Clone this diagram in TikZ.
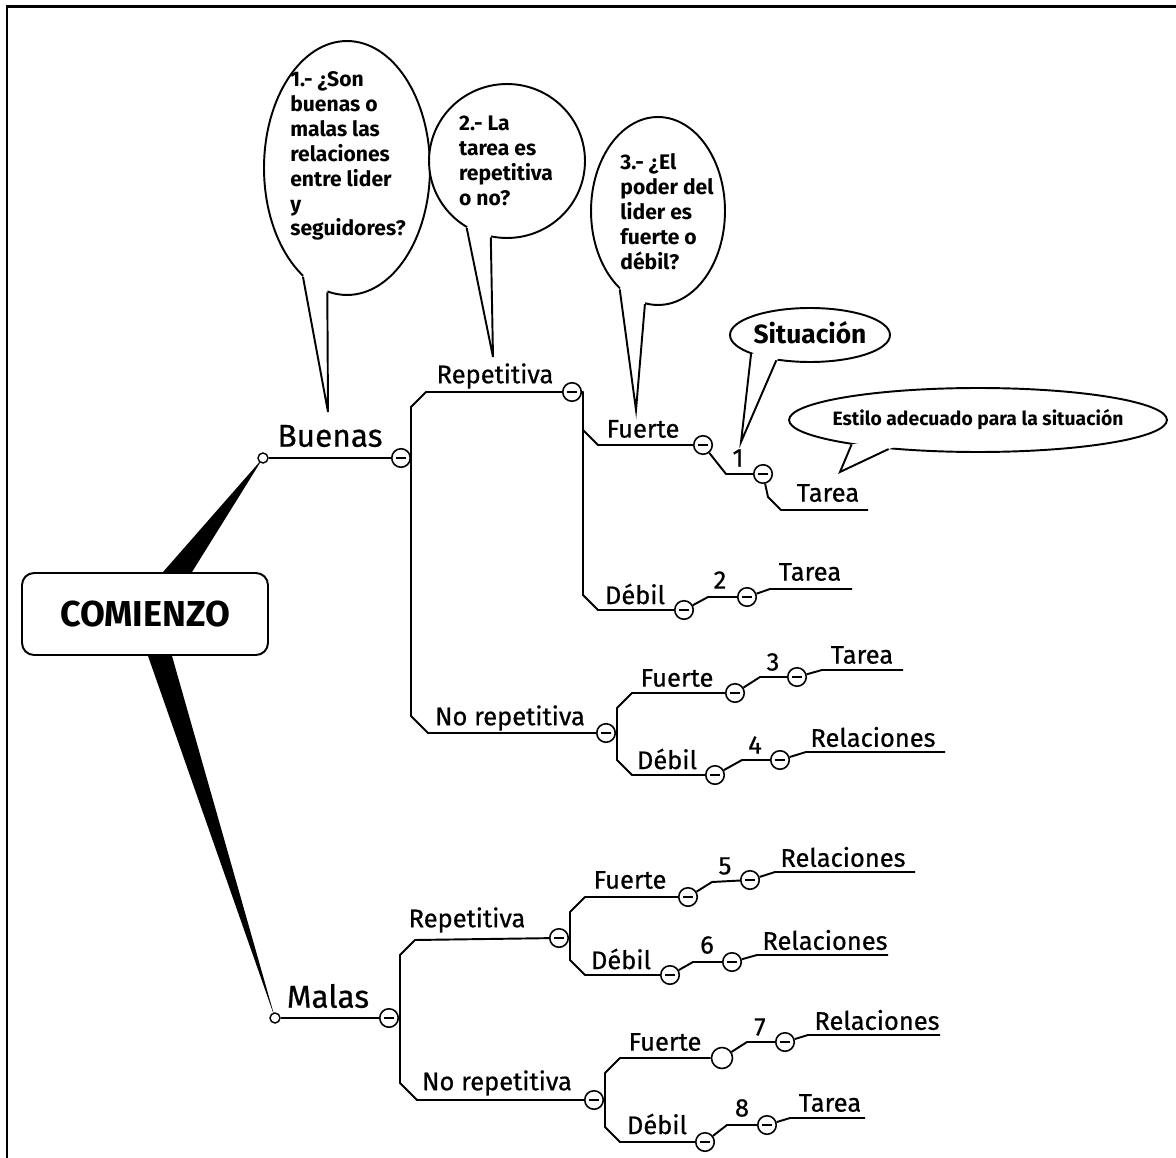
\documentclass[tikz,border=0pt]{standalone}
\usepackage{fontspec}
\setmainfont{Fira Sans}
\newfontfamily\branchfont{Fira Sans}[FakeBold=0.6]
\usetikzlibrary{shapes.geometric,positioning,backgrounds,calc}
\tikzset{
    rootbox/.style={
        draw,
        fill=white,
        rectangle,
        rounded corners=0.24cm,
        minimum width=4.92cm,
        minimum height=1.64cm,
        line width=1.1pt,
        font=\fontsize{20.5}{24}\selectfont\bfseries
    },
    branch/.style={
        line width=1.1pt,
        line join=round
    },
    toggle/.style={
        circle,
        draw,
        fill=white,
        line width=0.9pt,
        minimum size=0.37cm,
        inner sep=0pt,
        path picture={\draw[line width=0.9pt]
            ([xshift=-0.1cm]path picture bounding box.center) --
            ([xshift=0.1cm]path picture bounding box.center);}
    },
    toggleopen/.style={
        circle,
        draw,
        fill=white,
        line width=0.9pt,
        minimum size=0.42cm,
        inner sep=0pt
    },
    knob/.style={
        circle,
        draw,
        fill=white,
        line width=0.8pt,
        minimum size=0.2cm,
        inner sep=0pt
    },
    topic/.style={
        font=\branchfont\fontsize{18}{20}\selectfont,
        inner sep=1pt
    },
    sub/.style={
        font=\branchfont\fontsize{14.5}{17}\selectfont,
        inner sep=1pt
    },
    bubble/.style={
        ellipse,
        draw,
        fill=white,
        line width=1.1pt,
        inner sep=0pt
    },
    qtext/.style={
        align=left,
        inner sep=0pt,
        font=\fontsize{12}{14.2}\selectfont\bfseries
    },
    tail/.style={
        line width=1.1pt,
        line join=miter
    }
}

\begin{document}
\begin{tikzpicture}[x=0.02cm, y=-0.02cm]
    \useasboundingbox (0,0) rectangle (1176,1158);
    % frame
    \draw[line width=1.7pt] (7,1158) -- (7,7) -- (1176,7);

    % Root
    \node[rootbox] (root) at (145,614) {COMIENZO};
    \node[knob] (pBue) at (263,458) {};
    \node[knob] (pMal) at (275,1018) {};
    \begin{scope}[on background layer]
        \fill ($(root.north)+(18,0)$) -- (pBue.center) -- ($(root.north)+(47,0)$) -- cycle;
        \fill ($(root.south)+(3,0)$) -- (pMal.center) -- ($(root.south)+(27,0)$) -- cycle;
    \end{scope}

    % First level
    \node[topic] (lBue) at (330,436) {Buenas};
    \node[toggle] (cBue) at (401,458) {};
    \node[topic] (lMal) at (328,996) {Malas};
    \node[toggle] (cMal) at (389,1018) {};
    \draw[branch] (pBue) -- (cBue);
    \draw[branch] (pMal) -- (cMal);

    % Buenas
    \node[sub] (lBR) at (495,376) {Repetitiva};
    \node[toggle] (cBR) at (572,392) {};
    \node[sub] (lBN) at (510,718) {No repetitiva};
    \node[toggle] (cBN) at (606,733) {};
    \draw[branch] (cBR) -- (426,392) -- (411,407) |- (cBue);
    \draw[branch] (cBN) -- (428,733) -- (411,716) |- (cBue);

    \node[sub] (lBRF) at (643,429) {Fuerte};
    \node[toggle] (cBRF) at (703,445) {};
    \node[sub] (lBRD) at (635,594) {Débil};
    \node[toggle] (cBRD) at (684,610) {};
    \draw[branch] (cBRF) -- (598,445) -- (583,430) |- (cBR);
    \draw[branch] (cBRD) -- (598,610) -- (583,595) |- (cBR);

    \node[sub] (lBNF) at (677,678) {Fuerte};
    \node[toggle] (cBNF) at (735,693) {};
    \node[sub] (lBND) at (667,759) {Débil};
    \node[toggle] (cBND) at (715,775) {};
    \draw[branch] (cBNF) -- (632,693) -- (617,708) |- (cBN);
    \draw[branch] (cBND) -- (632,775) -- (617,760) |- (cBN);

    % Malas
    \node[sub] (lMR) at (467,920) {Repetitiva};
    \node[toggle] (cMR) at (559,938) {};
    \node[sub] (lMN) at (497,1083) {No repetitiva};
    \node[toggle] (cMN) at (594,1100) {};
    \draw[branch] (cMR) -- (415,940) -- (400,955) |- (cMal);
    \draw[branch] (cMN) -- (417,1100) -- (400,1083) |- (cMal);

    \node[sub] (lMRF) at (630,880) {Fuerte};
    \node[toggle] (cMRF) at (688,897) {};
    \node[sub] (lMRD) at (621,959) {Débil};
    \node[toggle] (cMRD) at (670,975) {};
    \draw[branch] (cMRF) -- (585,897) -- (570,912) |- (cMR);
    \draw[branch] (cMRD) -- (585,975) -- (570,960) |- (cMR);

    \node[sub] (lMNF) at (665,1042) {Fuerte};
    \node[toggleopen] (cMNF) at (722,1058) {};
    \node[sub] (lMND) at (657,1124) {Débil};
    \node[toggle] (cMND) at (705,1142) {};
    \draw[branch] (cMNF) -- (620,1058) -- (605,1073) |- (cMN);
    \draw[branch] (cMND) -- (620,1142) -- (605,1127) |- (cMN);

    % Situations 1-8
    \node[sub] (t1) at (738,458) {1};
    \node[toggle] (n1) at (763,474) {};
    \coordinate (e1) at (868,510);
    \node[sub] (r1) at (828,493) {Tarea};
    \draw[branch] (n1) -- (726,474) -- (cBRF);
    \draw[branch] (e1) -- (781,510) -- (768,497) -- (n1);

    \node[sub] (t2) at (720,580) {2};
    \node[toggle] (n2) at (747,597) {};
    \coordinate (e2) at (852,589);
    \node[sub] (r2) at (810,572) {Tarea};
    \draw[branch] (n2) -- (708,597) -- (cBRD);
    \draw[branch] (e2) -- (770,589) -- (n2);

    \node[sub] (t3) at (773,662) {3};
    \node[toggle] (n3) at (797,677) {};
    \coordinate (e3) at (903,670);
    \node[sub] (r3) at (862,655) {Tarea};
    \draw[branch] (n3) -- (760,677) -- (cBNF);
    \draw[branch] (e3) -- (822,670) -- (n3);

    \node[sub] (t4) at (755,745) {4};
    \node[toggle] (n4) at (780,760) {};
    \coordinate (e4) at (945,752);
    \node[sub] (r4) at (873,737) {Relaciones};
    \draw[branch] (n4) -- (742,760) -- (cBND);
    \draw[branch] (e4) -- (806,752) -- (n4);

    \node[sub] (t5) at (725,866) {5};
    \node[toggle] (n5) at (750,880) {};
    \coordinate (e5) at (915,872);
    \node[sub] (r5) at (843,857) {Relaciones};
    \draw[branch] (n5) -- (712,882) -- (cMRF);
    \draw[branch] (e5) -- (775,872) -- (n5);

    \node[sub] (t6) at (707,945) {6};
    \node[toggle] (n6) at (732,962) {};
    \coordinate (e6) at (888,955);
    \node[sub] (r6) at (825,940) {Relaciones};
    \draw[branch] (n6) -- (693,962) -- (cMRD);
    \draw[branch] (e6) -- (757,955) -- (n6);

    \node[sub] (t7) at (760,1027) {7};
    \node[toggle] (n7) at (785,1042) {};
    \coordinate (e7) at (940,1035);
    \node[sub] (r7) at (877,1020) {Relaciones};
    \draw[branch] (n7) -- (747,1042) -- (cMNF);
    \draw[branch] (e7) -- (808,1035) -- (n7);

    \node[sub] (t8) at (742,1108) {8};
    \node[toggle] (n8) at (767,1125) {};
    \coordinate (e8) at (865,1118);
    \node[sub] (r8) at (830,1103) {Tarea};
    \draw[branch] (n8) -- (727,1125) -- (cMND);
    \draw[branch] (e8) -- (790,1118) -- (n8);

    % Question callouts
    \node[bubble, minimum width=3.32cm, minimum height=5.08cm] (q1) at (347,168) {};
    \coordinate (tip1) at (328,412);
    \fill[white] ($(q1.center)!0.94!(q1.248)$) -- (q1.248) -- (tip1) -- (q1.261) -- ($(q1.center)!0.94!(q1.261)$) -- cycle;
    \draw[tail] (q1.248) -- (tip1) -- (q1.261);
    \node[qtext] (q1t) at (348,156) {1.- ¿Son\\buenas o\\malas las\\relaciones\\entre lider\\y\\seguidores?};

    \node[bubble, minimum width=3.12cm, minimum height=3.08cm] (q2) at (507,161) {};
    \coordinate (tip2) at (493,357);
    \fill[white] ($(q2.center)!0.94!(q2.239)$) -- (q2.239) -- (tip2) -- (q2.258) -- ($(q2.center)!0.94!(q2.258)$) -- cycle;
    \draw[tail] (q2.239) -- (tip2) -- (q2.258);
    \node[qtext] (q2t) at (506,161) {2.- La\\tarea es\\repetitiva\\o no?};

    \node[bubble, minimum width=2.68cm, minimum height=3.76cm] (q3) at (658,211) {};
    \coordinate (tip3) at (636,410);
    \fill[white] ($(q3.center)!0.94!(q3.244)$) -- (q3.244) -- (tip3) -- (q3.262) -- ($(q3.center)!0.94!(q3.262)$) -- cycle;
    \draw[tail] (q3.244) -- (tip3) -- (q3.262);
    \node[qtext] (q3t) at (667,212) {3.- ¿El\\poder del\\lider es\\fuerte o\\débil?};

    % Situation callouts
    \node[bubble, minimum width=3.2cm, minimum height=1.08cm] (qs) at (810,335) {};
    \coordinate (tipS) at (741,442);
    \fill[white] ($(qs.center)!0.9!(qs.198)$) -- (qs.198) -- (tipS) -- (qs.217) -- ($(qs.center)!0.9!(qs.217)$) -- cycle;
    \draw[tail] (qs.198) -- (tipS) -- (qs.217);
    \node[qtext, font=\fontsize{15}{17}\selectfont\bfseries] (qst) at (810,333) {Situación};

    \node[bubble, minimum width=7.56cm, minimum height=1.28cm] (qe) at (978,420) {};
    \coordinate (tipE) at (840,472);
    \fill[white] ($(qe.center)!0.9!(qe.191)$) -- (qe.191) -- (tipE) -- (qe.198) -- ($(qe.center)!0.9!(qe.198)$) -- cycle;
    \draw[tail] (qe.191) -- (tipE) -- (qe.198);
    \node[qtext, font=\fontsize{11}{13}\selectfont\bfseries] (qet) at (978,420) {Estilo adecuado para la situación};
\end{tikzpicture}
\end{document}
